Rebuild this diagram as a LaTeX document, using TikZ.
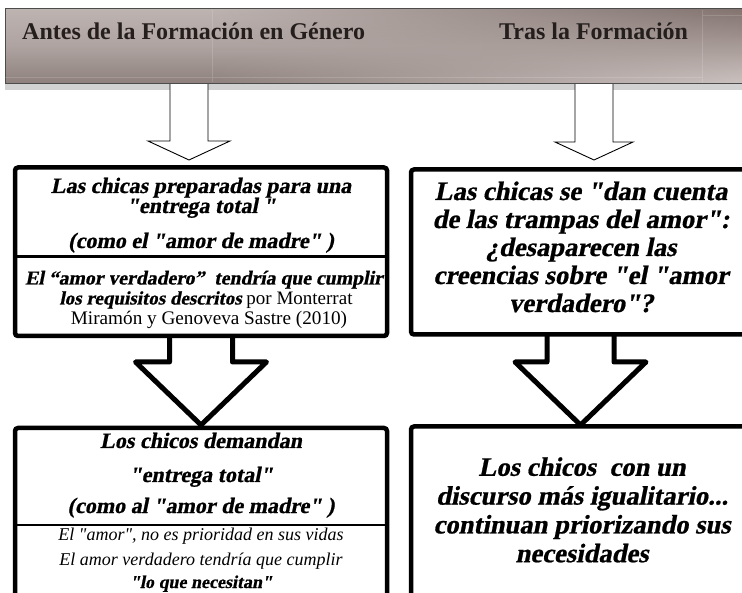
\documentclass[tikz,border=0pt]{standalone}
\usepackage{fontspec}
\setmainfont{Liberation Serif}[Ligatures=TeXOff,BoldItalicFont={Liberation Serif Bold},BoldItalicFeatures={FakeSlant=0.2,FakeBold=0.8}]
\usetikzlibrary{calc,backgrounds,fadings}
\definecolor{hdrtop}{HTML}{BDB3B0}
\definecolor{hdrmid}{HTML}{AEA3A0}
\definecolor{hdrbot}{HTML}{8E817D}
\definecolor{hdrdark}{HTML}{837470}
\definecolor{hdrlight}{HTML}{CBC2BF}
\definecolor{hdrtext}{HTML}{241E1D}
\tikzset{
  hdrbox/.style    = {draw=gray!60!black,line width=1pt,top color=hdrtop,bottom color=hdrbot,middle color=hdrmid,
                      minimum width=745pt,minimum height=74.5pt,inner sep=0pt,outer sep=0pt},
  panel/.style     = {draw,line width=4.5pt,rounded corners=3pt,fill=white,inner sep=0pt,outer sep=0pt},
  divline/.style   = {line width=2.4pt},
  thinarr/.style   = {draw,fill=white,line width=0.9pt},
  bigarr/.style    = {draw,fill=white,line width=5pt,line join=round},
  hdrtxt/.style    = {font=\fontsize{24}{24}\selectfont\bfseries,text=hdrtext,anchor=base west,inner sep=0pt},
  boldline/.style  = {font=\fontsize{22}{22}\selectfont\bfseries\itshape,anchor=base,inner sep=0pt},
  bigline/.style   = {font=\fontsize{26.6}{28}\selectfont\bfseries\itshape,anchor=base,inner sep=0pt},
  refline/.style   = {font=\fontsize{19.2}{20}\selectfont,anchor=base,inner sep=0pt},
  smallline/.style = {font=\fontsize{18}{18}\selectfont\itshape,anchor=base,inner sep=0pt}
}
% hollow arrow pointing down: style, top centre, tip, shaft half width, head half width, head depth
\newcommand{\blockarrow}[6]{%
  \draw[#1] ($(#2)+(-#4,0)$) -- ($(#3)+(-#4,-#6)$) -- ($(#3)+(-#5,-#6)$) -- (#3)
    -- ($(#3)+(#5,-#6)$) -- ($(#3)+(#4,-#6)$) -- ($(#2)+(#4,0)$);
}
\begin{document}
\begin{tikzpicture}[x=1pt,y=-1pt]
  \useasboundingbox (0,0) rectangle (742,593);

  % header band
  \node[hdrbox] (hdr) at (377.5,46.25) {};
  \shade[top color=hdrdark,bottom color=hdrlight,path fading=west] (212,10) rectangle (750,82.5);
  \draw[white,opacity=0.15,line width=0.8pt] (5,77) -- (702,77) (212,10) -- (212,82.5) (702,10) -- (702,82.5) (702,15) -- (750,15);
  \node[hdrtxt] (antes) at (22,40) {Antes de la Formación en Género};
  \node[hdrtxt] (tras) at (499,40) {Tras la Formación};

  % panels
  \node[panel,minimum width=372pt,minimum height=168.5pt] (l1) at (201,251.75) {};
  \node[panel,minimum width=349pt,minimum height=165pt] (r1) at (585.5,252) {};
  \node[panel,minimum width=372pt,minimum height=182pt] (l2) at (201,519) {};
  \node[panel,minimum width=349pt,minimum height=183.5pt] (r2) at (585.5,518.25) {};
  \coordinate (d1) at (0,256.7);
  \coordinate (d2) at (0,525);
  \draw[divline] (l1.west |- d1) -- (l1.east |- d1);
  \draw[divline] (l2.west |- d2) -- (l2.east |- d2);

  % arrows, behind the panels
  \coordinate (ta) at (189,160);
  \coordinate (tb) at (594,160);
  \coordinate (tc) at (201,425);
  \coordinate (td) at (580.5,425);
  \begin{scope}[on background layer]
    \fill[gray!35] (5,83.5) rectangle (750,90);
    \blockarrow{thinarr}{hdr.south -| ta}{ta}{19}{41}{19}
    \blockarrow{thinarr}{hdr.south -| tb}{tb}{19}{39}{18}
    \blockarrow{bigarr}{l1.south -| tc}{tc}{31.5}{65.5}{63}
    \blockarrow{bigarr}{r1.south -| td}{td}{33.5}{65.5}{63}
  \end{scope}

  % left column
  \node[boldline] (l1a) at (201,193) {Las chicas preparadas para una};
  \node[boldline] (l1b) at (201,213) {"entrega total "};
  \node[boldline] (l1c) at (201,248) {(como el "amor de madre" )};
  \node[refline,font=\fontsize{19.7}{20}\selectfont\bfseries\itshape] (l1d) at (204,284.5) {El “amor verdadero”\ \ tendría que cumplir};
  \node[refline,font=\fontsize{19}{20}\selectfont] (l1e) at (206,304.5) {\textbf{\textit{los requisitos descritos}} por Monterrat};
  \node[refline] (l1f) at (209,325) {Miramón y Genoveva Sastre (2010)};

  \node[boldline] (l2a) at (201,448) {Los chicos demandan};
  \node[boldline] (l2b) at (201,482) {"entrega total"};
  \node[boldline] (l2c) at (201,513) {(como al "amor de madre" )};
  \node[smallline] (l2d) at (201,540) {El "amor", no es prioridad en sus vidas};
  \node[smallline] (l2e) at (201,565) {El amor verdadero tendría que cumplir};
  \node[smallline,font=\fontsize{18}{18}\selectfont\bfseries\itshape] (l2f) at (201,588) {"lo que necesitan"};

  % right column
  \foreach \txt [count=\i] in {{Las chicas se "dan cuenta},{de las trampas del amor":},{¿desaparecen las},{creencias sobre "el "amor},{verdadero"?}}
    \node[bigline] (r1\i) at (581,172+28*\i) {\txt};
  \foreach \txt [count=\i] in {{Los chicos\ \ con un},{discurso más igualitario.{}.{}.},{continuan priorizando sus},{necesidades}}
    \node[bigline] (r2\i) at (582,447+28.8*\i) {\txt};
\end{tikzpicture}
\end{document}
